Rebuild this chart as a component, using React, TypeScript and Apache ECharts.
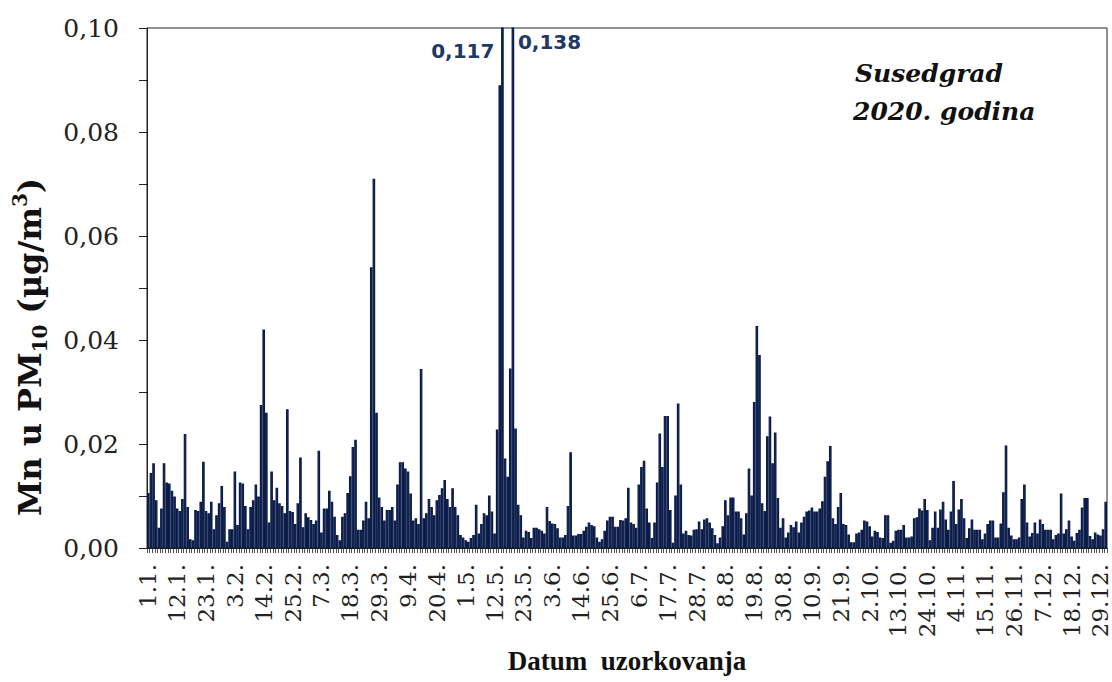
import React, { useEffect, useRef } from "react";
import * as echarts from "echarts";

// Daily Mn in PM10 (µg/m3), Susedgrad, 2020 — one array per month
const jan = [0.0106, 0.0144, 0.0163, 0.0092, 0.0039, 0.0076, 0.0163, 0.0126, 0.0124, 0.011, 0.0099, 0.0076, 0.0071, 0.0094, 0.0219, 0.0079, 0.0017, 0.0015, 0.0073, 0.0071, 0.0089, 0.0166, 0.0071, 0.0067, 0.0089, 0.0036, 0.0063, 0.0086, 0.0119, 0.0079, 0.0012];
const feb = [0.0036, 0.0036, 0.0147, 0.0044, 0.0126, 0.0124, 0.0081, 0.0036, 0.0079, 0.0092, 0.0122, 0.0099, 0.0275, 0.042, 0.026, 0.0049, 0.0147, 0.0092, 0.0116, 0.0086, 0.0081, 0.0067, 0.0267, 0.0071, 0.0069, 0.0046, 0.0086, 0.0174, 0.004];
const mar = [0.0067, 0.0059, 0.0054, 0.0046, 0.0053, 0.0187, 0.003, 0.0076, 0.0076, 0.011, 0.0089, 0.006, 0.0025, 0.0015, 0.006, 0.0067, 0.0106, 0.0138, 0.0194, 0.0208, 0.0035, 0.0035, 0.0053, 0.0089, 0.0057, 0.054, 0.071, 0.026, 0.0097, 0.0079, 0.0053];
const apr = [0.0073, 0.0073, 0.0079, 0.0053, 0.0122, 0.0165, 0.0165, 0.0153, 0.0147, 0.0105, 0.0053, 0.0057, 0.0046, 0.0344, 0.0057, 0.0067, 0.0094, 0.0079, 0.0063, 0.0092, 0.0102, 0.0115, 0.0131, 0.0094, 0.0079, 0.0115, 0.0079, 0.0063, 0.0025, 0.002];
const may = [0.0015, 0.0012, 0.0019, 0.0025, 0.0083, 0.0028, 0.0046, 0.0067, 0.0063, 0.0101, 0.007, 0.0028, 0.0228, 0.089, 0.117, 0.0172, 0.0137, 0.0345, 0.138, 0.023, 0.0083, 0.0063, 0.002, 0.0033, 0.0031, 0.0019, 0.0039, 0.0039, 0.0036, 0.0033, 0.0028];
const jun = [0.0079, 0.0052, 0.0047, 0.0046, 0.0038, 0.002, 0.002, 0.0025, 0.0081, 0.0184, 0.0024, 0.0024, 0.0027, 0.0027, 0.0033, 0.0041, 0.0049, 0.0044, 0.0042, 0.002, 0.0012, 0.0017, 0.0033, 0.0053, 0.006, 0.006, 0.0041, 0.0041, 0.0054, 0.0053];
const jul = [0.0057, 0.0116, 0.0049, 0.0046, 0.0039, 0.0122, 0.0156, 0.0168, 0.0076, 0.0049, 0.0019, 0.0049, 0.0126, 0.022, 0.0156, 0.0254, 0.0254, 0.0073, 0.001, 0.0101, 0.0278, 0.0122, 0.0028, 0.0033, 0.0025, 0.0024, 0.0035, 0.0036, 0.0051, 0.0036, 0.0055];
const aug = [0.0057, 0.0049, 0.0038, 0.0025, 0.0009, 0.002, 0.0042, 0.0092, 0.0063, 0.0097, 0.0097, 0.007, 0.007, 0.0057, 0.0026, 0.0067, 0.0153, 0.0101, 0.0281, 0.0427, 0.0371, 0.0086, 0.0071, 0.0215, 0.0253, 0.0163, 0.0222, 0.0096, 0.0039, 0.0057, 0.002];
const sep = [0.003, 0.0044, 0.004, 0.0051, 0.003, 0.0049, 0.006, 0.007, 0.0072, 0.0078, 0.007, 0.007, 0.0076, 0.009, 0.0137, 0.0167, 0.0196, 0.0057, 0.0046, 0.0079, 0.0106, 0.0046, 0.0044, 0.0026, 0.0011, 0.0011, 0.0028, 0.003, 0.0035, 0.0053];
const oct = [0.0051, 0.0042, 0.0022, 0.0033, 0.0031, 0.002, 0.0019, 0.0063, 0.0063, 0.001, 0.0014, 0.0033, 0.0035, 0.0035, 0.0044, 0.002, 0.002, 0.0022, 0.0057, 0.0059, 0.0076, 0.0072, 0.0094, 0.0073, 0.0015, 0.0039, 0.007, 0.0039, 0.0074, 0.0089, 0.0055];
const nov = [0.0035, 0.007, 0.0129, 0.0046, 0.0074, 0.0094, 0.0057, 0.0019, 0.0038, 0.0055, 0.0035, 0.0035, 0.0035, 0.0017, 0.0028, 0.0046, 0.0053, 0.0053, 0.002, 0.002, 0.0047, 0.0107, 0.0197, 0.0039, 0.0024, 0.0017, 0.0017, 0.002, 0.0094, 0.0122];
const dec = [0.0049, 0.0022, 0.0029, 0.0049, 0.0028, 0.0055, 0.0046, 0.0035, 0.0035, 0.0035, 0.0017, 0.0025, 0.0028, 0.0105, 0.0028, 0.0036, 0.0053, 0.0022, 0.0014, 0.0029, 0.0035, 0.0078, 0.0096, 0.0096, 0.0023, 0.0017, 0.003, 0.0026, 0.0024, 0.0036, 0.0089];

const months = [jan, feb, mar, apr, may, jun, jul, aug, sep, oct, nov, dec];
const values: number[] = months.flat();

// category labels "d.m." for every day of 2020
const categories: string[] = [];
months.forEach((m, mi) => m.forEach((_, di) => categories.push(`${di + 1}.${mi + 1}.`)));

// labels shown on the x axis
const tickLabels = ["1.1.", "12.1.", "23.1.", "3.2.", "14.2.", "25.2.", "7.3.", "18.3.", "29.3.", "9.4.", "20.4.", "1.5.", "12.5.", "23.5.", "3.6.", "14.6.", "25.6.", "6.7.", "17.7.", "28.7.", "8.8.", "19.8.", "30.8.", "10.9.", "21.9.", "2.10.", "13.10.", "24.10.", "4.11.", "15.11.", "26.11.", "7.12.", "18.12.", "29.12."];

const yMin = 0;
const yMax = 0.1;
const yStep = 0.02;

const SERIF = "DejaVu Serif";
const TIMES = "Liberation Serif";
const NAVY = "#1F3864";

export default function App() {
  const ref = useRef<HTMLDivElement>(null);

  useEffect(() => {
    if (!ref.current) return;
    const chart = echarts.init(ref.current, undefined, { renderer: "svg" });
    chart.setOption({
      animation: false,
      backgroundColor: "#ffffff",
      grid: {
        left: 147,
        right: 5,
        top: 28,
        bottom: 134,
        show: true,
        borderColor: "#222",
        borderWidth: 1,
        backgroundColor: "transparent",
      },
      xAxis: {
        type: "category",
        data: categories,
        boundaryGap: true,
        axisLine: { lineStyle: { color: "#222", width: 1 } },
        axisTick: { show: true, interval: 0, length: 5, lineStyle: { color: "#222", width: 0.8 } },
        axisLabel: {
          interval: (_i: number, v: string) => tickLabels.includes(v),
          rotate: 90,
          margin: 16,
          fontFamily: SERIF,
          fontSize: 23,
          color: "#222",
        },
      },
      yAxis: {
        type: "value",
        min: yMin,
        max: yMax,
        interval: yStep,
        splitLine: { show: false },
        axisLine: { show: true, lineStyle: { color: "#222", width: 1 } },
        axisTick: { show: true, length: 8, lineStyle: { color: "#222" } },
        minorTick: { show: true, splitNumber: 2, length: 8, lineStyle: { color: "#222" } },
        axisLabel: {
          margin: 28,
          fontFamily: SERIF,
          fontSize: 25,
          color: "#222",
          formatter: (v: number) => v.toFixed(2).replace(".", ","),
        },
      },
      series: [
        {
          type: "bar",
          data: values,
          barCategoryGap: "0%",
          clip: true,
          itemStyle: { color: "#17378a", borderColor: "#0b1a44", borderWidth: 1.2 },
        },
      ],
    });

    // value labels for bars that exceed the axis maximum
    const over = values.map((v, i) => (v > yMax ? i : -1)).filter((i) => i >= 0);
    const topPx = chart.convertToPixel({ yAxisIndex: 0 }, yMax) as number;
    const elements: any[] = over.map((idx, k) => {
      const px = chart.convertToPixel({ xAxisIndex: 0 }, idx) as number;
      const left = k === 0;
      return {
        type: "text",
        x: left ? px - 8 : px + 5,
        y: topPx + (left ? 23 : 14),
        style: {
          text: values[idx].toFixed(3).replace(".", ","),
          fontFamily: "DejaVu Sans",
          fontWeight: "bold",
          fontSize: 20,
          fill: NAVY,
          align: left ? "right" : "left",
          verticalAlign: "middle",
        },
      };
    });

    elements.push(
      {
        type: "text",
        x: 855,
        y: 73,
        style: {
          text: "Susedgrad",
          fontFamily: SERIF,
          fontWeight: "bold",
          fontStyle: "italic",
          fontSize: 25,
          fill: "#111",
          align: "left",
          verticalAlign: "middle",
        },
      },
      {
        type: "text",
        x: 853,
        y: 111,
        style: {
          text: "2020. godina",
          fontFamily: SERIF,
          fontWeight: "bold",
          fontStyle: "italic",
          fontSize: 25,
          fill: "#111",
          align: "left",
          verticalAlign: "middle",
        },
      },
      {
        type: "text",
        x: 627,
        y: 661,
        style: {
          text: "Datum  uzorkovanja",
          fontFamily: TIMES,
          fontWeight: "bold",
          fontSize: 27,
          fill: "#111",
          align: "center",
          verticalAlign: "middle",
        },
      },
      {
        type: "text",
        x: 30,
        y: 347,
        rotation: Math.PI / 2,
        style: {
          text: "{b|Mn u PM}{sub|10}{b| (µg/m}{sup|3}{b|)}",
          fill: "#111",
          align: "center",
          verticalAlign: "middle",
          rich: {
            b: { fontFamily: SERIF, fontWeight: "bold", fontSize: 32, lineHeight: 40, fill: "#111" },
            sub: { fontFamily: SERIF, fontWeight: "bold", fontSize: 20, lineHeight: 20, verticalAlign: "bottom", fill: "#111" },
            sup: { fontFamily: SERIF, fontWeight: "bold", fontSize: 20, lineHeight: 20, verticalAlign: "top", fill: "#111" },
          },
        },
      }
    );

    chart.setOption({ graphic: elements });

    return () => chart.dispose();
  }, []);

  return <div ref={ref} style={{ width: 1112, height: 682, position: "absolute", left: 0, top: 0 }} />;
}
